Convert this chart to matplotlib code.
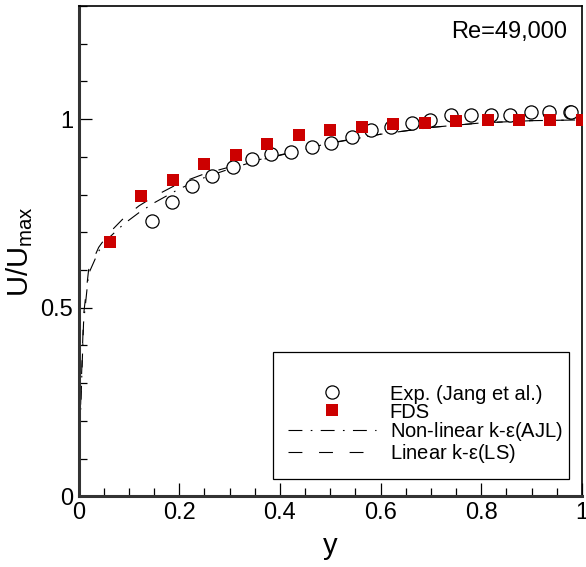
import numpy as np
import matplotlib
matplotlib.use('Agg')
import matplotlib.pyplot as plt
from matplotlib.patches import Rectangle

plt.rcParams['font.family'] = ['Liberation Sans', 'DejaVu Sans']
plt.rcParams['mathtext.fontset'] = 'custom'
plt.rcParams['mathtext.rm'] = 'Liberation Sans'
plt.rcParams['mathtext.it'] = 'Liberation Sans'

# Exp. (Jang et al.)
exp_x = [0.146, 0.186, 0.226, 0.266, 0.307, 0.344, 0.382, 0.423, 0.463, 0.501, 0.543,
         0.582, 0.621, 0.662, 0.698, 0.740, 0.780, 0.819, 0.858, 0.899, 0.934, 0.976, 0.979]
exp_y = [0.730, 0.781, 0.824, 0.848, 0.873, 0.895, 0.907, 0.912, 0.925, 0.938, 0.954,
         0.971, 0.978, 0.991, 0.999, 1.012, 1.011, 1.011, 1.011, 1.020, 1.020, 1.019, 1.019]

# FDS
fds_x = [0.0625, 0.125, 0.1875, 0.25, 0.3125, 0.375, 0.4375, 0.5, 0.5625, 0.625,
         0.6875, 0.75, 0.8125, 0.875, 0.9375, 1.0]
fds_y = [0.673, 0.795, 0.839, 0.880, 0.906, 0.933, 0.957, 0.970, 0.980, 0.988,
         0.991, 0.996, 0.999, 0.999, 0.999, 0.999]

# Non-linear k-eps (AJL)
ajl_x = [0, 0.001, 0.002, 0.005, 0.01, 0.02, 0.04, 0.06, 0.09, 0.12, 0.15, 0.2, 0.25,
         0.3, 0.35, 0.4, 0.5, 0.6, 0.7, 0.8, 0.9, 1.0]
ajl_y = [0, 0.07, 0.14, 0.26, 0.46, 0.59, 0.65, 0.685, 0.722, 0.752, 0.778, 0.815, 0.845,
         0.868, 0.888, 0.904, 0.936, 0.960, 0.978, 0.990, 0.996, 0.998]

# Linear k-eps (LS)
ls_x = [0, 0.001, 0.002, 0.005, 0.01, 0.02, 0.04, 0.06, 0.09, 0.12, 0.15, 0.2, 0.25,
        0.3, 0.35, 0.4, 0.5, 0.6, 0.7, 0.8, 0.9, 1.0]
ls_y = [0, 0.08, 0.15, 0.28, 0.48, 0.60, 0.66, 0.697, 0.738, 0.770, 0.795, 0.830, 0.855,
        0.873, 0.890, 0.905, 0.937, 0.960, 0.978, 0.990, 0.996, 0.998]

fig = plt.figure(figsize=(5.86, 5.67), dpi=100)
ax = fig.add_axes([0.134, 0.1247, 0.859, 0.8647])

ax.plot(exp_x, exp_y, 'o', mfc='white', mec='black', mew=0.9, ms=9.5,
        label='Exp. (Jang et al.)', zorder=3)
ax.plot(fds_x, fds_y, 's', color='#cc0000', ms=8.5, mew=0, label='FDS', zorder=4)
ax.plot(ajl_x, ajl_y, color='black', lw=0.8, dashes=(12.5, 7.5, 1.5, 7.5),
        label=r'Non-linear k-$\varepsilon$(AJL)', zorder=2)
ax.plot(ls_x, ls_y, color='black', lw=0.8, dashes=(12.5, 15),
        label=r'Linear k-$\varepsilon$(LS)', zorder=2)

ax.set_xlim(0, 1)
ax.set_ylim(0, 1.3)
ax.set_xticks([0, 0.2, 0.4, 0.6, 0.8, 1.0])
ax.set_xticklabels(['0', '0.2', '0.4', '0.6', '0.8', '1'])
ax.set_xticks(np.arange(0, 1.0001, 0.05), minor=True)
ax.set_yticks([0, 0.5, 1.0])
ax.set_yticklabels(['0', '0.5', '1'])
ax.set_yticks(np.arange(0, 1.3001, 0.1), minor=True)
ax.tick_params(which='both', direction='in', labelsize=17, width=0.9, color='black')
ax.tick_params(which='major', length=9.5)
ax.tick_params(which='minor', length=5.5)
ax.tick_params(axis='x', pad=4)
ax.tick_params(axis='y', pad=4)

for s in ['left', 'bottom']:
    ax.spines[s].set_linewidth(2.2)
    ax.spines[s].set_color('#333333')
for s in ['top', 'right']:
    ax.spines[s].set_linewidth(1.2)
    ax.spines[s].set_color('black')

ax.set_xlabel('y', fontsize=21, labelpad=6)
ax.set_ylabel(r'U/U$_{\mathregular{max}}$', fontsize=21, labelpad=4)

ax.text(0.970, 0.947, 'Re=49,000', transform=ax.transAxes, ha='right', va='center',
        fontsize=17)

ax.add_patch(Rectangle((0.386, 0.036), 0.588, 0.258, transform=ax.transAxes,
                       fill=True, facecolor='white', edgecolor='black', lw=0.9, zorder=5))
leg = ax.legend(loc='upper left', bbox_to_anchor=(0.416, 0.228), frameon=False,
                fontsize=14.5, handlelength=4.35, handletextpad=0.7, labelspacing=-0.05,
                borderpad=0, borderaxespad=0, numpoints=1)
leg.set_zorder(6)

fig.savefig('out.png', dpi=100)
